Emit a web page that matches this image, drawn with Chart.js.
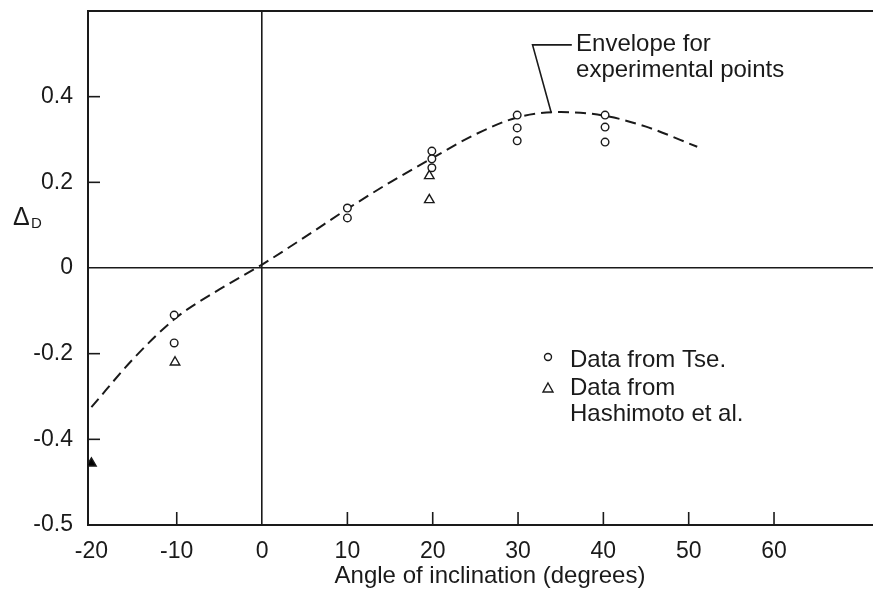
<!DOCTYPE html>
<html>
<head>
<meta charset="utf-8">
<script src="https://cdn.jsdelivr.net/npm/chart.js@4.4.0/dist/chart.umd.min.js"></script>
<style>
  html, body { margin: 0; padding: 0; background: #fff; }
  canvas { display: block; }
</style>
</head>
<body>
<canvas id="chart" width="873" height="589"></canvas>
<script>
// --- Values ---
const envelopeX = [-20, -15, -10, -5, 0, 5, 10, 15, 20, 25, 30, 35, 40, 45, 51];
const envelopeY = [-0.325, -0.21, -0.115, -0.05, 0.008, 0.072, 0.138, 0.2, 0.257, 0.312, 0.352, 0.364, 0.356, 0.33, 0.283];

const tseX = [-10.3, -10.3, 10, 10, 19.9, 19.9, 19.9, 29.9, 29.9, 29.9, 40.2, 40.2, 40.2];
const tseY = [-0.11, -0.175, 0.14, 0.117, 0.273, 0.255, 0.234, 0.357, 0.327, 0.297, 0.357, 0.329, 0.294];

const hashiX = [-20, -10.2, 19.6, 19.6];
const hashiY = [-0.456, -0.22, 0.215, 0.159];

const xTicks = [-20, -10, 0, 10, 20, 30, 40, 50, 60];
const yTicks = [-0.6, -0.4, -0.2, 0, 0.2, 0.4];
const yTickLabels = ["-0.5", "-0.4", "-0.2", "0", "0.2", "0.4"];

// leader line of the "Envelope" note, in data units
const leaderX = [36.3, 31.7, 33.9];
const leaderY = [0.521, 0.521, 0.362];
const noteX = 36.8;
const noteY = [0.521, 0.462];

const INK = "#1a1a1a";
const FONT = "'Liberation Sans', Arial, sans-serif";

const toPoints = (xs, ys) => xs.map((x, i) => ({ x: x, y: ys[i] }));

// keep the plot box where the figure has it
const fixBox = (s, size) => {
  if (s.isHorizontal()) s.height = size; else s.width = size;
  s.paddingTop = 0; s.paddingBottom = 0; s.paddingLeft = 0; s.paddingRight = 0;
};

// the frame runs to the right edge of the picture
const fullWidth = {
  id: "fullWidth",
  afterLayout(chart) {
    const x = chart.scales.x;
    chart.chartArea.right = chart.width;
    chart.chartArea.width = chart.chartArea.right - chart.chartArea.left;
    x.right = chart.width;
    x.width = x.right - x.left;
    x.configure();
  }
};

// --- extra drawing: frame top, inward ticks, titles, legend, note ---
const decorations = {
  id: "decorations",
  afterDraw(chart) {
    const ctx = chart.ctx;
    const area = chart.chartArea;
    const xs = chart.scales.x, ys = chart.scales.y;
    ctx.save();
    ctx.strokeStyle = INK;
    ctx.fillStyle = INK;

    // top edge of the frame
    ctx.lineWidth = 2;
    ctx.beginPath();
    ctx.moveTo(area.left, area.top);
    ctx.lineTo(area.right, area.top);
    ctx.stroke();

    // inward tick marks
    ctx.lineWidth = 1.6;
    xTicks.forEach(v => {
      if (v === 0 || v === -20) return;
      const px = xs.getPixelForValue(v);
      ctx.beginPath();
      ctx.moveTo(px, area.bottom);
      ctx.lineTo(px, area.bottom - 13);
      ctx.stroke();
    });
    yTicks.forEach(v => {
      if (v === 0 || v === -0.6) return;
      const py = ys.getPixelForValue(v);
      ctx.beginPath();
      ctx.moveTo(area.left, py);
      ctx.lineTo(area.left + 12, py);
      ctx.stroke();
    });

    // axis titles
    ctx.textBaseline = "alphabetic";
    ctx.textAlign = "center";
    ctx.font = "24px " + FONT;
    ctx.fillText("Angle of inclination (degrees)", 490, 583);
    ctx.textAlign = "left";
    ctx.font = "25px " + FONT;
    ctx.fillText("\u0394", 13, 225);
    ctx.font = "15px " + FONT;
    ctx.fillText("D", 31, 228);

    // legend
    ctx.font = "24px " + FONT;
    ctx.fillText("Data from Tse.", 570, 367);
    ctx.fillText("Data from", 570, 395);
    ctx.fillText("Hashimoto et al.", 570, 421);
    ctx.lineWidth = 1.4;
    ctx.fillStyle = "#fff";
    ctx.beginPath();
    ctx.arc(548, 357, 3.5, 0, Math.PI * 2);
    ctx.fill();
    ctx.stroke();
    ctx.beginPath();
    ctx.moveTo(548, 383);
    ctx.lineTo(553, 392);
    ctx.lineTo(543, 392);
    ctx.closePath();
    ctx.fill();
    ctx.stroke();

    // note with leader line
    ctx.fillStyle = INK;
    ctx.lineWidth = 1.6;
    ctx.beginPath();
    leaderX.forEach((x, i) => {
      const px = xs.getPixelForValue(x), py = ys.getPixelForValue(leaderY[i]);
      if (i === 0) ctx.moveTo(px, py); else ctx.lineTo(px, py);
    });
    ctx.stroke();
    ctx.textBaseline = "middle";
    ctx.fillText("Envelope for", xs.getPixelForValue(noteX), ys.getPixelForValue(noteY[0]));
    ctx.fillText("experimental points", xs.getPixelForValue(noteX), ys.getPixelForValue(noteY[1]));
    ctx.restore();
  }
};

new Chart(document.getElementById("chart").getContext("2d"), {
  type: "scatter",
  data: {
    datasets: [
      {
        label: "Envelope for experimental points",
        data: toPoints(envelopeX, envelopeY),
        showLine: true,
        borderColor: INK,
        borderWidth: 2,
        borderDash: [11, 6],
        pointRadius: 0,
        cubicInterpolationMode: "monotone",
        order: 3
      },
      {
        label: "Data from Tse.",
        data: toPoints(tseX, tseY),
        pointStyle: "circle",
        pointRadius: 3.8,
        borderColor: INK,
        backgroundColor: "#fff",
        pointBorderWidth: 1.4,
        order: 1
      },
      {
        label: "Data from Hashimoto et al.",
        data: toPoints(hashiX, hashiY),
        pointStyle: "triangle",
        pointRadius: 5.5,
        borderColor: INK,
        pointBackgroundColor: ["#000", "#fff", "#fff", "#fff"],
        pointBorderWidth: 1.4,
        order: 2
      }
    ]
  },
  options: {
    responsive: false,
    animation: false,
    devicePixelRatio: 1,
    layout: { padding: { top: 11, right: 0, left: 0, bottom: 0 } },
    plugins: { legend: { display: false }, tooltip: { enabled: false } },
    scales: {
      x: {
        type: "linear",
        min: -20.4,
        max: 71.6,
        afterBuildTicks: s => { s.ticks = xTicks.map(v => ({ value: v })); },
        afterFit: s => fixBox(s, 64),
        ticks: { color: INK, font: { size: 23, family: FONT }, padding: 13, maxRotation: 0 },
        grid: {
          drawTicks: false,
          lineWidth: 1.6,
          color: c => (c.tick && c.tick.value === 0 ? INK : "rgba(0,0,0,0)")
        },
        border: { display: true, color: INK, width: 2 }
      },
      y: {
        type: "linear",
        min: -0.6,
        max: 0.6,
        afterBuildTicks: s => { s.ticks = yTicks.map(v => ({ value: v })); },
        afterFit: s => fixBox(s, 88),
        ticks: {
          color: INK,
          font: { size: 23, family: FONT },
          padding: 15,
          callback: (v, i) => yTickLabels[i]
        },
        grid: {
          drawTicks: false,
          lineWidth: 1.6,
          color: c => (c.tick && c.tick.value === 0 ? INK : "rgba(0,0,0,0)")
        },
        border: { display: true, color: INK, width: 2 }
      }
    }
  },
  plugins: [fullWidth, decorations]
});
</script>
</body>
</html>
